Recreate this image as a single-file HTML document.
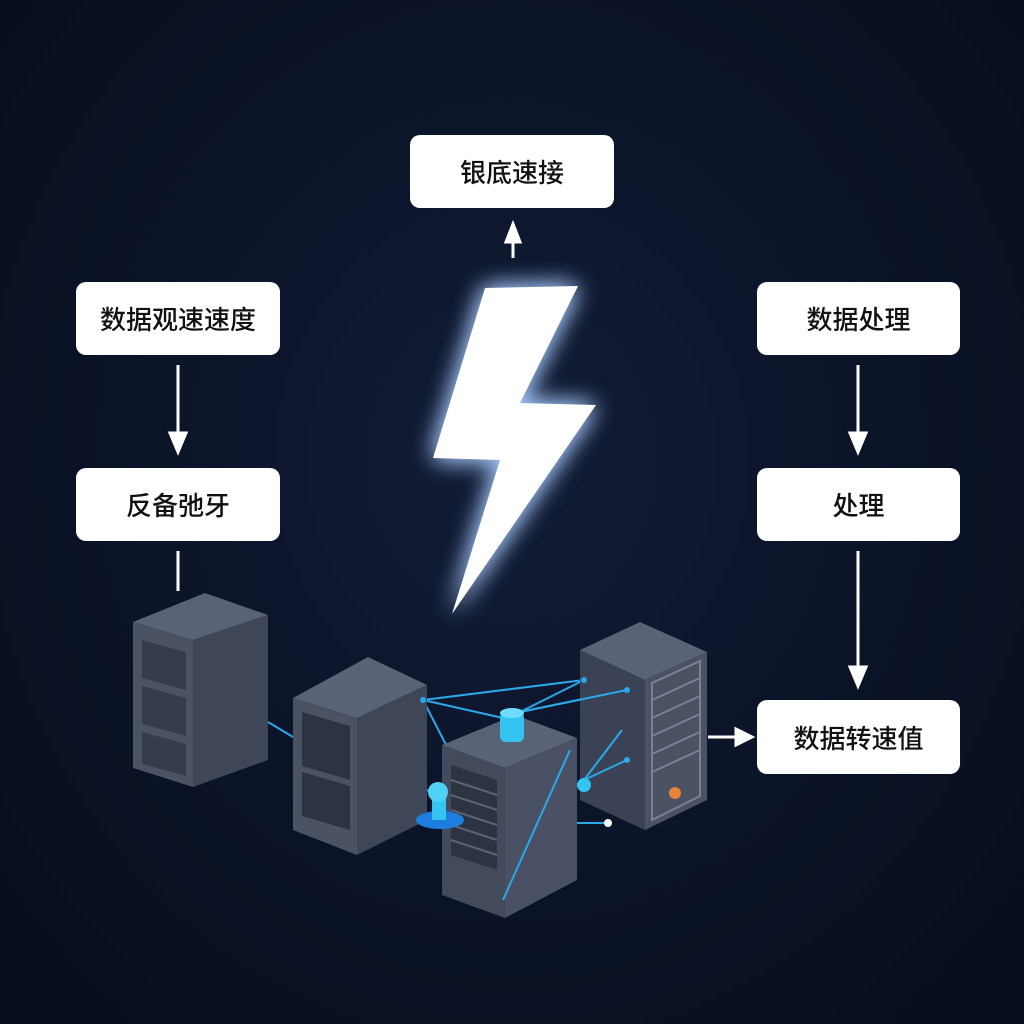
<!DOCTYPE html>
<html><head><meta charset="utf-8"><style>
html,body{margin:0;padding:0;background:#0a1124;}
body{width:1024px;height:1024px;position:relative;overflow:hidden;
background:radial-gradient(ellipse at 50% 45%,#111c35 0%,#0b1327 55%,#080d1c 100%);}
.b{position:absolute;background:#fff;border-radius:10px;display:flex;align-items:center;justify-content:center;
font-family:"Liberation Sans","Noto Sans CJK SC",sans-serif;font-size:26px;font-weight:500;color:#111;}
svg{position:absolute;left:0;top:0;}
</style></head><body>
<svg width="1024" height="1024" viewBox="0 0 1024 1024">
<defs>
<filter id="g" x="-50%" y="-50%" width="200%" height="200%"><feGaussianBlur stdDeviation="12"/></filter>
</defs>
<g stroke="#fff" stroke-width="3" fill="#fff">
<line x1="178" y1="365" x2="178" y2="440"/><path d="M170,433 L186,433 L178,452 z"/>
<line x1="178" y1="551" x2="178" y2="591"/>
<line x1="858" y1="365" x2="858" y2="440"/><path d="M850,433 L866,433 L858,452 z"/>
<line x1="858" y1="551" x2="858" y2="674"/><path d="M850,667 L866,667 L858,686 z"/>
<line x1="513" y1="258" x2="513" y2="236"/><path d="M506,242 L520,242 L513,224 z"/>
<line x1="708" y1="737" x2="740" y2="737"/><path d="M736,729 L736,745 L752,737 z"/>
</g>
<polygon points="485,288 578,286 520,403 596,405 452,614 500,460 433,458" fill="#a8ccff" filter="url(#g)"/>
<polygon points="485,288 578,286 520,403 596,405 452,614 500,460 433,458" fill="#a8ccff" filter="url(#g)" opacity="0.6"/>
<polygon points="485,288 578,286 520,403 596,405 452,614 500,460 433,458" fill="#fff"/>
<!-- server1 -->
<polygon points="133,622 205,593 268,615 193,640" fill="#5a6275"/>
<polygon points="193,640 268,615 268,760 193,787" fill="#3f4658"/>
<polygon points="133,622 193,640 193,787 133,768" fill="#4b5264"/>
<g fill="#363c4c"><polygon points="142,640 186,652 186,690 142,678"/><polygon points="142,686 186,698 186,736 142,724"/><polygon points="142,732 186,744 186,776 142,764"/></g>
<!-- lines -->
<g stroke="#2aa8e8" stroke-width="2" fill="none">
<line x1="268" y1="722" x2="293" y2="737"/>
<line x1="423" y1="700" x2="584" y2="680"/><line x1="423" y1="700" x2="458" y2="768"/>
<line x1="423" y1="700" x2="503" y2="718"/>
<line x1="520" y1="712" x2="627" y2="690"/><line x1="520" y1="712" x2="584" y2="680"/>
<line x1="395" y1="805" x2="440" y2="785"/>
<line x1="584" y1="780" x2="622" y2="730"/><line x1="584" y1="780" x2="627" y2="760"/>
<line x1="577" y1="823" x2="608" y2="823"/>
</g>
<!-- server2 -->
<polygon points="293,698 368,657 427,685 357,718" fill="#5a6275"/>
<polygon points="357,718 427,685 427,820 357,855" fill="#3f4658"/>
<polygon points="293,698 357,718 357,855 293,830" fill="#4b5264"/>
<g fill="#2e3342"><polygon points="302,712 350,726 350,780 302,766"/><polygon points="302,772 350,786 350,830 302,816"/></g>
<!-- server4 -->
<polygon points="580,650 640,622 707,652 645,680" fill="#5a6275"/>
<polygon points="580,650 645,680 645,830 580,800" fill="#3b4256"/>
<polygon points="645,680 707,652 707,800 645,830" fill="#4b5264"/>
<polygon points="652,683 700,661 700,796 652,820" fill="none" stroke="#7a8296" stroke-width="2"/>
<g stroke="#7a8296" stroke-width="2"><line x1="652" y1="700" x2="700" y2="678"/><line x1="652" y1="718" x2="700" y2="696"/><line x1="652" y1="736" x2="700" y2="714"/><line x1="652" y1="754" x2="700" y2="732"/><line x1="652" y1="772" x2="700" y2="750"/></g>
<circle cx="675" cy="793" r="6" fill="#e8823a"/>
<g stroke="#2aa8e8" stroke-width="2"><line x1="584" y1="780" x2="622" y2="730"/><line x1="584" y1="780" x2="627" y2="760"/><line x1="520" y1="712" x2="627" y2="690"/></g>
<!-- server3 -->
<polygon points="442,745 515,715 577,738 505,768" fill="#5a6275"/>
<polygon points="505,768 577,738 577,880 505,918" fill="#4a5165"/>
<polygon points="442,745 505,768 505,918 442,895" fill="#434a5c"/>
<g fill="#2e3342"><polygon points="451,765 497,780 497,870 451,855"/></g>
<g stroke="#5a6275" stroke-width="2"><line x1="451" y1="780" x2="497" y2="795"/><line x1="451" y1="795" x2="497" y2="810"/><line x1="451" y1="810" x2="497" y2="825"/><line x1="451" y1="825" x2="497" y2="840"/><line x1="451" y1="840" x2="497" y2="855"/></g>
<line x1="503" y1="900" x2="570" y2="750" stroke="#2aa8e8" stroke-width="2"/>
<!-- blue parts -->
<rect x="500" y="712" width="24" height="30" rx="6" fill="#33c4f0"/>
<ellipse cx="512" cy="713" rx="12" ry="5" fill="#6fdcff"/>
<ellipse cx="440" cy="820" rx="24" ry="9" fill="#1e7ee0"/>
<rect x="432" y="795" width="14" height="25" fill="#33c4f0"/>
<circle cx="438" cy="792" r="10" fill="#4fd0f5"/>
<circle cx="584" cy="785" r="7" fill="#33c4f0"/>
<circle cx="608" cy="823" r="4" fill="#fff"/>
<g fill="#2aa8e8"><circle cx="423" cy="700" r="3"/><circle cx="584" cy="680" r="3"/><circle cx="627" cy="690" r="3"/><circle cx="627" cy="760" r="3"/></g>
</svg>
<div class="b" style="left:410px;top:135px;width:204px;height:73px;">银底速接</div>
<div class="b" style="left:76px;top:282px;width:204px;height:73px;">数据观速速度</div>
<div class="b" style="left:76px;top:468px;width:204px;height:73px;">反备弛牙</div>
<div class="b" style="left:757px;top:282px;width:203px;height:73px;">数据处理</div>
<div class="b" style="left:757px;top:468px;width:203px;height:73px;">处理</div>
<div class="b" style="left:757px;top:700px;width:203px;height:74px;">数据转速值</div>
</body></html>
